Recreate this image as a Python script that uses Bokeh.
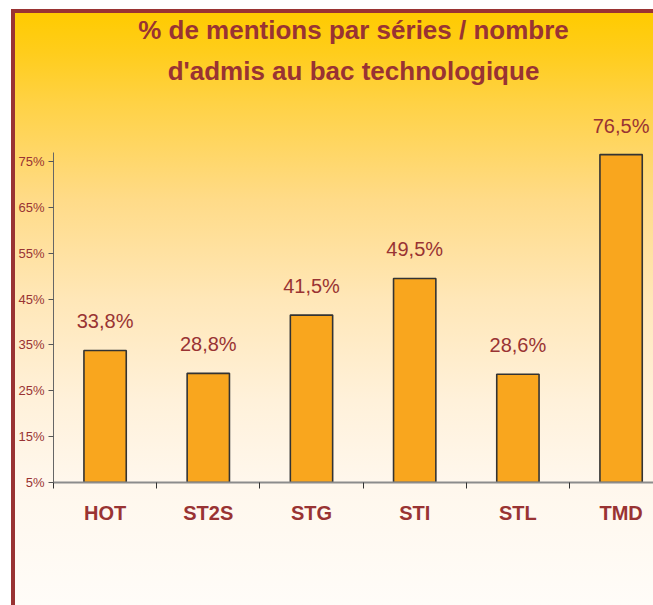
from bokeh.plotting import figure
from bokeh.models import Range1d, FixedTicker, PrintfTickFormatter, Title, ColumnDataSource
from bokeh.core.properties import value
from bokeh.embed import file_html
from bokeh.resources import INLINE

# ---- data ----
categories = ["HOT", "ST2S", "STG", "STI", "STL", "TMD"]
values = [33.8, 28.8, 41.5, 49.5, 28.6, 76.5]
y_ticks = [5, 15, 25, 35, 45, 55, 65, 75]
title_line1 = "% de mentions par séries / nombre"
title_line2 = "d'admis au bac technologique"

RED = "#993333"
FONT = "Liberation Sans"

xs = list(range(len(categories)))
labels = [f"{v:.1f}%".replace(".", ",") for v in values]
src = ColumnDataSource(dict(x=xs, top=values, label=labels))

y0 = y_ticks[0]
p = figure(width=653, height=605, output_backend="svg", toolbar_location=None,
           x_range=Range1d(-0.5, 5.314), y_range=Range1d(y0, 88.3),
           min_border_left=53, min_border_right=0, min_border_top=100,
           min_border_bottom=123)

p.background_fill_color = None
p.border_fill_color = None
p.outline_line_color = None
p.grid.visible = False

grad = ("linear-gradient(to bottom, #FFCB00 0px, #FFCD1C 40px, #FFD245 90px, #FFDB88 187px, "
        "#FFE7B8 287px, #FFF1DA 387px, #FFF7EC 467px, #FFFCF8 592px)")
p.styles = {
    "background": (f"linear-gradient({RED},{RED}) 11px 9px / 4px 100% no-repeat, "
                   f"linear-gradient({RED},{RED}) 11px 9px / 100% 4px no-repeat, "
                   f"{grad} 15px 13px / 100% 100% no-repeat, #ffffff")
}

# titles (first added is closest to the frame)
t2 = Title(text=title_line2, align="center", text_font_size="26px", text_font_style="bold",
           text_color=RED, text_font=FONT, standoff=29)
t1 = Title(text=title_line1, align="center", text_font_size="26px", text_font_style="bold",
           text_color=RED, text_font=FONT, standoff=-11)
p.add_layout(t2, "above")
p.add_layout(t1, "above")

p.vbar(x="x", top="top", bottom=y0, width=0.41, source=src,
       fill_color="#F9A61E", line_color="#333333", line_width=1.6)

p.text(x="x", y="top", text="label", source=src, text_align="center",
       text_baseline="alphabetic", y_offset=-29, text_font=value(FONT),
       text_font_size="20px", text_color=RED)

# x axis
xa = p.xaxis[0]
xa.ticker = FixedTicker(ticks=xs, minor_ticks=[i - 0.5 for i in range(len(categories) + 1)])
xa.major_label_overrides = {i: c for i, c in enumerate(categories)}
xa.major_tick_out = 0
xa.major_tick_in = 0
xa.minor_tick_out = 6
xa.minor_tick_in = 0
xa.minor_tick_line_color = "#333333"
xa.axis_line_color = "#8C8C8C"
xa.axis_line_width = 2
xa.major_label_standoff = 13
xa.major_label_text_font = FONT
xa.major_label_text_font_size = "20px"
xa.major_label_text_font_style = "bold"
xa.major_label_text_color = RED

# y axis
ya = p.yaxis[0]
ya.ticker = FixedTicker(ticks=y_ticks, minor_ticks=[])
ya.formatter = PrintfTickFormatter(format="%d%%")
ya.bounds = (y0, 77)
ya.axis_line_color = "#666666"
ya.major_tick_line_color = "#555555"
ya.major_tick_out = 5
ya.major_tick_in = 0
ya.minor_tick_out = 0
ya.minor_tick_in = 0
ya.major_label_standoff = 4
ya.major_label_text_font = FONT
ya.major_label_text_font_size = "13px"
ya.major_label_text_color = RED

open("out.html", "w").write(file_html(p, INLINE))
